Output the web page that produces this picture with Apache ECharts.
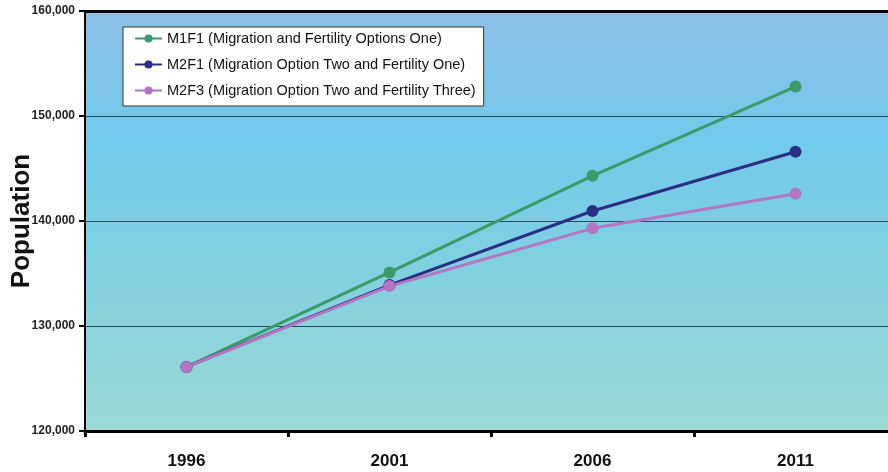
<!DOCTYPE html>
<html><head><meta charset="utf-8">
<script src="https://cdn.jsdelivr.net/npm/echarts@6/dist/echarts.min.js"></script>
<style>html,body{margin:0;padding:0;background:#fff}#c{width:888px;height:472px}</style>
</head><body><div id="c"></div>
<script>
const years = ['1996','2001','2006','2011'];
const m1f1 = [126100, 135100, 144300, 152800];
const m2f1 = [126100, 133900, 140950, 146600];
const m2f3 = [126100, 133800, 139300, 142600];
const seriesNames = [
  'M1F1 (Migration and Fertility Options One)',
  'M2F1 (Migration Option Two and Fertility One)',
  'M2F3 (Migration Option Two and Fertility Three)'
];
const colors = ['#3a9a68', '#2a2e84', '#b574c4'];

const chart = echarts.init(document.getElementById('c'));
function mk(name, data, color) {
  return {
    name, type: 'line', data, symbol: 'circle', symbolSize: 12,
    lineStyle: { color, width: 3 }, itemStyle: { color }, z: 3
  };
}
chart.setOption({
  animation: false,
  color: colors,
  grid: {
    left: 85, right: -9, top: 11, bottom: 41,
    outerBoundsMode: 'none', containLabel: false,
    show: true, borderWidth: 0,
    backgroundColor: {
      type: 'linear', x: 0, y: 0, x2: 0, y2: 1,
      colorStops: [
        { offset: 0, color: '#8ebfe6' },
        { offset: 0.3, color: '#72c9ea' },
        { offset: 0.6, color: '#80d0e0' },
        { offset: 1, color: '#9cd8d6' }
      ]
    }
  },
  legend: {
    orient: 'vertical', left: 123, top: 27,
    backgroundColor: '#fff', borderColor: '#333', borderWidth: 1,
    padding: [4, 8, 8, 11], itemGap: 11, itemWidth: 27, itemHeight: 10,
    textStyle: { fontFamily: 'Liberation Sans, Arial', fontSize: 14.5, color: '#111' },
    data: seriesNames
  },
  xAxis: [{
    type: 'category', data: years, boundaryGap: true,
    axisLine: { lineStyle: { color: '#000', width: 3 } },
    axisTick: { show: true, inside: false, length: 6, lineStyle: { color: '#000', width: 3 } },
    axisLabel: { fontFamily: 'Liberation Sans, Arial', fontWeight: 'bold', fontSize: 17, color: '#111', margin: 22 }
  }, {
    type: 'category', data: years, position: 'top',
    axisLine: { lineStyle: { color: '#000', width: 3 } },
    axisTick: { show: false }, axisLabel: { show: false }
  }],
  yAxis: {
    type: 'value', min: 120000, max: 160000, interval: 10000,
    name: 'Population', nameLocation: 'middle', nameGap: 50, nameMoveOverlap: false,
    nameTextStyle: { fontFamily: 'Liberation Sans, Arial', fontWeight: 'bold', fontSize: 26, color: '#111' },
    axisLine: { show: true, lineStyle: { color: '#000', width: 2 } },
    axisTick: { show: true, length: 6, lineStyle: { color: '#000', width: 2 } },
    axisLabel: {
      fontFamily: 'Liberation Sans, Arial', fontWeight: 'bold', fontSize: 12, color: '#222', margin: 10,
      formatter: v => v.toLocaleString('en-US')
    },
    splitLine: { show: true, lineStyle: { color: '#2a4a58', width: 1 } }
  },
  series: [
    mk(seriesNames[0], m1f1, colors[0]),
    mk(seriesNames[1], m2f1, colors[1]),
    mk(seriesNames[2], m2f3, colors[2])
  ]
});
</script></body></html>
